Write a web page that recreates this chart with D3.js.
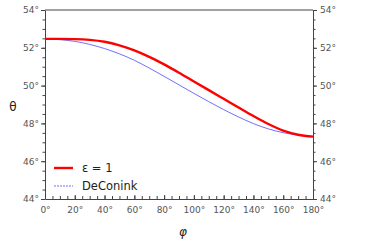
<!DOCTYPE html>
<html>
<head>
<meta charset="utf-8">
<script src="https://cdn.jsdelivr.net/npm/d3@7"></script>
<style>
  body { margin: 0; background: #fff; }
  svg text { font-family: "DejaVu Sans", sans-serif; }
</style>
</head>
<body>
<div id="chart-area"></div>
<script>
// data
const phi = [0, 10, 20, 30, 40, 50, 60, 70, 80, 90, 100, 110, 120, 130, 140, 150, 160, 170, 180]
const epsOne = [52.47, 52.47, 52.46, 52.42, 52.32, 52.13, 51.86, 51.52, 51.12, 50.68, 50.22, 49.76, 49.30, 48.84, 48.39, 47.97, 47.62, 47.40, 47.30]
const deConink = [52.47, 52.43, 52.34, 52.18, 51.96, 51.68, 51.34, 50.93, 50.49, 50.04, 49.59, 49.15, 48.73, 48.34, 47.99, 47.71, 47.51, 47.38, 47.31]
const xTicks = [0, 20, 40, 60, 80, 100, 120, 140, 160, 180]
const yTicks = [44, 46, 48, 50, 52, 54]
const seriesNames = ["\u03b5 = 1", "DeConink"]

const MARGIN = { LEFT: 45, RIGHT: 61, TOP: 10, BOTTOM: 44 }
const WIDTH = 374 - MARGIN.LEFT - MARGIN.RIGHT
const HEIGHT = 243 - MARGIN.TOP - MARGIN.BOTTOM
const AXIS = "#444"

const svg = d3.select("#chart-area").append("svg")
  .attr("width", 374)
  .attr("height", 243)

const g = svg.append("g")
  .attr("transform", `translate(${MARGIN.LEFT}, ${MARGIN.TOP})`)

const x = d3.scaleLinear().domain([0, 180]).range([0, WIDTH])
const y = d3.scaleLinear().domain([44, 54]).range([HEIGHT, 0])

const deg = d => d + "\u00b0"
const minorX = d3.range(0, 181, 5)
const minorY = d3.range(44, 54.01, 0.5)

// minor ticks first, then the labelled ones on top
g.append("g")
  .attr("transform", `translate(0, ${HEIGHT})`)
  .call(d3.axisTop(x).tickValues(minorX).tickSize(3).tickFormat(""))
  .call(a => a.select(".domain").remove())
g.append("g")
  .call(d3.axisLeft(y).tickValues(minorY).tickSize(2.5).tickFormat(""))
  .call(a => a.select(".domain").remove())
g.append("g")
  .attr("transform", `translate(${WIDTH}, 0)`)
  .call(d3.axisRight(y).tickValues(minorY).tickSize(2.5).tickFormat(""))
  .call(a => a.select(".domain").remove())

const xAxis = g.append("g")
  .attr("transform", `translate(0, ${HEIGHT})`)
  .call(d3.axisTop(x).tickValues(xTicks).tickSize(4).tickSizeOuter(0).tickFormat(deg))
xAxis.selectAll("text").attr("y", 14).attr("dy", "0")

g.append("g")
  .call(d3.axisLeft(y).tickValues(yTicks).tickSize(4).tickSizeOuter(0).tickPadding(2).tickFormat(deg))

g.append("g")
  .attr("transform", `translate(${WIDTH}, 0)`)
  .call(d3.axisRight(y).tickValues(yTicks).tickSize(4).tickSizeOuter(0).tickPadding(3).tickFormat(deg))

// top frame line
g.append("line")
  .attr("x1", 0).attr("x2", WIDTH).attr("y1", 0).attr("y2", 0)
  .attr("stroke", AXIS)

g.selectAll(".tick line").attr("stroke", AXIS)
g.selectAll(".domain").attr("stroke", AXIS)
g.selectAll(".tick text").attr("fill", "#555").attr("font-size", "9px")

const line = d3.line()
  .x((d, i) => x(phi[i]))
  .y(d => y(d))
  .curve(d3.curveMonotoneX)

g.append("path")
  .attr("d", line(deConink))
  .attr("fill", "none")
  .attr("stroke", "#4a4aff")
  .attr("stroke-width", 0.8)

g.append("path")
  .attr("d", line(epsOne))
  .attr("fill", "none")
  .attr("stroke", "#ff0000")
  .attr("stroke-width", 2.4)

// legend
const legend = g.append("g").attr("transform", "translate(9, 158)")
const legendStyles = [
  { color: "#ff0000", width: 2.4, dash: null },
  { color: "#4a4aff", width: 0.8, dash: "2,1" }
]
seriesNames.forEach((name, i) => {
  const row = legend.append("g").attr("transform", `translate(0, ${i * 18})`)
  row.append("line")
    .attr("x1", 0).attr("x2", 19)
    .attr("stroke", legendStyles[i].color)
    .attr("stroke-width", legendStyles[i].width)
    .attr("stroke-dasharray", legendStyles[i].dash)
  row.append("text")
    .attr("x", 28)
    .attr("y", 4)
    .attr("font-size", "11.5px")
    .attr("fill", "#222")
    .text(name)
})

// axis labels
svg.append("text")
  .attr("x", 13)
  .attr("y", 111)
  .attr("text-anchor", "middle")
  .attr("font-size", "12px")
  .attr("fill", "#222")
  .text("\u03b8")

svg.append("text")
  .attr("x", 183)
  .attr("y", 236)
  .attr("text-anchor", "middle")
  .attr("font-size", "12px")
  .attr("font-style", "italic")
  .attr("fill", "#222")
  .text("\u03c6")
</script>
</body>
</html>
